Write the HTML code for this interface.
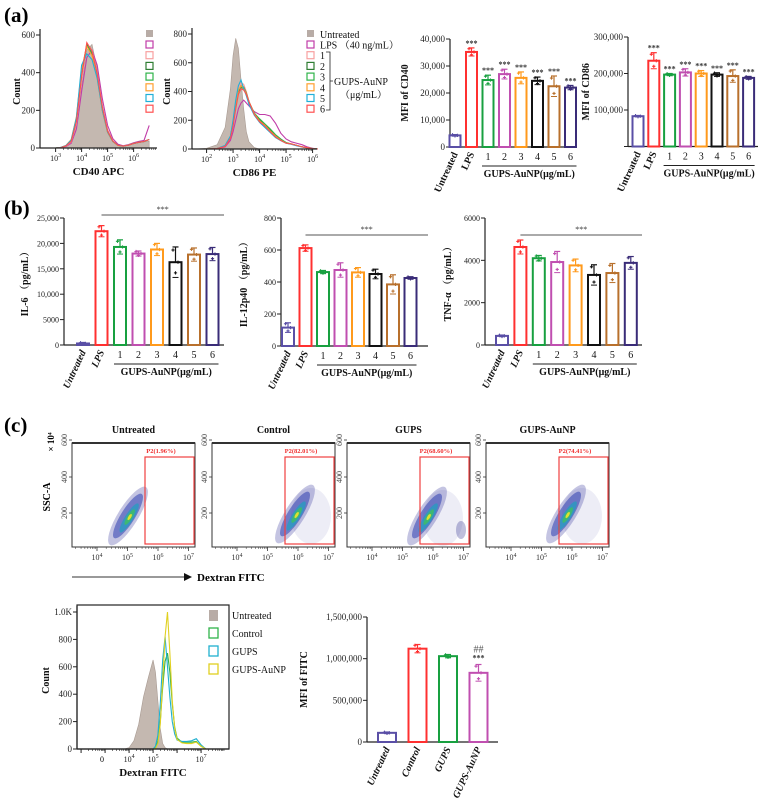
<!DOCTYPE html>
<html><head><meta charset="utf-8">
<style>
html,body{margin:0;padding:0;background:#fff;}
svg{display:block;font-family:"Liberation Serif","Noto Serif CJK SC",serif;}
</style></head>
<body>
<svg id="fig" width="766" height="811" viewBox="0 0 766 811" xmlns="http://www.w3.org/2000/svg">
<g>
<text x="4" y="22" font-size="21" font-weight="bold">(a)</text>
<text x="4" y="215" font-size="21" font-weight="bold">(b)</text>
<text x="4" y="432" font-size="21" font-weight="bold">(c)</text>
</g>
</svg>
<script>
// ---------- DATA ----------
const groupCats = ["Untreated","LPS","1","2","3","4","5","6"];
const groupColors = ["#5a4fa6","#ff3030","#18a040","#c04fb0","#ff9a1c","#111111","#b8702c","#3a2c78"];
const cd40Vals = [4300,35200,24800,27000,25600,24500,22500,22000];
const cd40Errs = [300,1500,1800,1800,2200,1400,3800,800];
const cd86Vals = [83000,235000,197000,203000,200000,197000,193000,188000];
const cd86Errs = [2000,22000,3000,10000,8000,5000,17000,4000];
const il6Vals = [300,22400,19300,18000,18800,16300,17800,17900];
const il6Errs = [200,1100,1400,500,1200,3000,1300,1300];
const il12Vals = [115,612,462,475,460,450,385,425];
const il12Errs = [30,20,10,45,30,30,60,8];
const tnfVals = [430,4630,4100,3920,3760,3310,3400,3880];
const tnfErrs = [40,330,130,500,300,480,450,300];
const fitcCats = ["Untreated","Control","GUPS","GUPS-AuNP"];
const fitcColors = ["#5a4fa6","#ff3030","#18a040","#c04fb0"];
const fitcVals = [110000,1120000,1030000,830000];
const fitcErrs = [10000,50000,20000,100000];
const cd40Ticks = [0,10000,20000,30000,40000];
const cd40TickLabels = ["0","10,000","20,000","30,000","40,000"];
const cd86Ticks = [0,100000,200000,300000];
const cd86TickLabels = ["","100,000","200,000","300,000"];
const il6Ticks = [0,5000,10000,15000,20000,25000];
const il6TickLabels = ["0","5000","10,000","15,000","20,000","25,000"];
const il12Ticks = [0,200,400,600,800];
const il12TickLabels = ["0","200","400","600","800"];
const tnfTicks = [0,2000,4000,6000];
const tnfTickLabels = ["0","2000","4000","6000"];
const fitcTicks = [0,500000,1000000,1500000];
const fitcTickLabels = ["0","500,000","1,000,000","1,500,000"];

// histogram data (log10 bins)
const cd40Bins = [3.0,3.2,3.4,3.6,3.8,4.0,4.2,4.4,4.6,4.8,5.0,5.2,5.4,5.6,5.8,6.0,6.2,6.4,6.6];
const cd40Untreated = [0,2,10,30,120,330,520,550,420,230,100,40,15,10,14,22,28,32,36];
const cd40Series = [
 [0,2,8,25,100,300,480,520,440,260,120,50,20,12,18,28,35,40,120],
 [0,2,10,32,130,360,540,520,400,220,95,38,14,10,15,24,30,35,45],
 [0,3,12,40,150,400,550,500,380,200,85,35,14,10,15,24,30,35,45],
 [0,3,12,38,145,390,545,505,385,205,88,36,14,10,15,24,30,35,45],
 [0,3,14,45,165,420,540,490,370,195,82,34,13,10,15,24,30,35,45],
 [0,3,13,42,160,440,500,470,370,200,85,35,14,10,15,24,30,35,45],
 [0,2,11,35,140,380,560,515,395,215,90,37,14,10,15,24,30,35,45]];
const histColors = ["#c03ca8","#f8a0a0","#2e7d32","#2fb34a","#ffa030","#20b0d8","#ff5050"];
const cd86Bins = [1.5,2.0,2.4,2.7,2.9,3.0,3.1,3.2,3.3,3.4,3.5,3.6,3.8,4.0,4.2,4.4,4.6,4.8,5.0,5.2,5.4,5.6,5.8,6.0,6.2];
const cd86Untreated = [0,5,30,150,420,650,770,700,480,280,120,50,10,0,0,0,0,0,0,0,0,0,0,0,0];
const cd86Series = [
 [0,0,2,15,60,120,200,280,320,340,320,300,260,240,240,230,180,110,70,50,40,30,15,5,0],
 [0,0,3,20,80,170,300,420,460,450,400,330,240,190,160,120,85,60,40,35,25,15,8,3,0],
 [0,0,3,22,85,180,310,400,440,430,390,330,250,200,170,135,95,65,45,35,25,15,8,3,0],
 [0,0,3,22,85,180,320,410,430,420,380,320,250,210,175,140,100,70,45,35,25,15,8,3,0],
 [0,0,3,20,82,175,305,410,440,425,385,330,245,195,165,125,90,62,42,35,25,15,8,3,0],
 [0,0,3,25,90,200,340,440,480,420,370,310,235,185,150,115,80,58,40,32,22,14,7,3,0],
 [0,0,3,18,75,160,280,380,420,410,380,330,240,190,160,120,85,60,40,35,25,15,8,3,0]];
const fitcBins = [3.8,4.0,4.2,4.4,4.6,4.8,5.0,5.1,5.2,5.3,5.4,5.5,5.6,5.7,5.8,5.9,6.0,6.2,6.4,6.6,6.8,7.0,7.2];
const fitcUntreated = [0,10,60,180,380,520,650,560,350,150,40,10,0,0,0,0,0,0,0,0,0,0,0];
const fitcSeries = [
 [0,0,0,0,0,0,0,10,60,200,450,640,700,560,330,160,80,50,50,50,55,20,0],
 [0,0,0,0,0,0,0,20,100,330,650,820,600,380,200,110,65,55,55,60,75,30,0],
 [0,0,0,0,0,0,0,5,40,180,500,820,1000,700,350,150,70,45,40,40,50,20,0]];
const fitcHistColors = ["#2fb34a","#20b0d0","#e0d020"];
const fitcLegend = ["Untreated","Control","GUPS","GUPS-AuNP"];
const scatterTitles = ["Untreated","Control","GUPS","GUPS-AuNP"];
const gatePercents = ["1.96%","82.01%","68.60%","74.41%"];

// ---------- HELPERS ----------
const NS="http://www.w3.org/2000/svg";
const svg=document.getElementById('fig');
function mk(tag,attrs,parent,txt){const e=document.createElementNS(NS,tag);for(const k in attrs)e.setAttribute(k,attrs[k]);if(txt!==undefined)e.textContent=txt;(parent||svg).appendChild(e);return e;}
function line(p,x1,y1,x2,y2,c,w){return mk('line',{x1,y1,x2,y2,stroke:c||'#222','stroke-width':w||1},p);}

function barChart(cfg,cats,vals,errs,colors,ticks,tickLabels){
  const g=mk('g',{});
  
  
  const y=v=>cfg.yBot-(v/cfg.max)*(cfg.yBot-cfg.yTop);
  const x=i=>cfg.x0+cfg.off+i*cfg.step;
  line(g,cfg.x0,cfg.yTop,cfg.x0,cfg.yBot,'#222',1.2);
  line(g,cfg.x0,cfg.yBot,cfg.xEnd,cfg.yBot,'#222',1.2);
  ticks.forEach((t,i)=>{
    line(g,cfg.x0-4,y(t),cfg.x0,y(t),'#222',1);
    if(tickLabels[i]){const tl=mk('text',{x:cfg.x0-5,y:y(t)+3,'text-anchor':'end','font-size':cfg.fs||9,fill:'#222'},g,tickLabels[i]);
    
    }
  });
  const yl=mk('text',{x:cfg.ylx,y:(cfg.yTop+cfg.yBot)/2,transform:`rotate(-90 ${cfg.ylx} ${(cfg.yTop+cfg.yBot)/2})`,'text-anchor':'middle','font-size':10,'font-weight':'bold',fill:'#111'},g,cfg.ylabel);
  
  
  cats.forEach((c,i)=>{
    const cx=x(i),top=y(vals[i]),bw=cfg.bw;
    const r=mk('rect',{x:cx-bw/2,y:top,width:bw,height:cfg.yBot-top,fill:'#fff',stroke:colors[i],'stroke-width':2},g);
    
    
    const eT=y(vals[i]+errs[i]),eB=y(Math.max(0,vals[i]-errs[i]));
    line(g,cx,eT,cx,top,colors[i],1.2);
    line(g,cx-3,eT,cx+3,eT,colors[i],1.2);
    line(g,cx-3,eB,cx+3,eB,colors[i],1);
    [vals[i]+errs[i]*0.8,vals[i]-errs[i]*0.7,vals[i]].forEach((v,k)=>{
      const py=y(v),px=cx+(k-1)*2.5;
      mk('path',{d:`M${px-1.6} ${py}h3.2M${px} ${py-1.6}v3.2`,stroke:colors[i],'stroke-width':1.1},g);
    });
    if(cfg.sig && i>=1){const s=mk('text',{x:cx,y:eT-2,'text-anchor':'middle','font-size':8,'font-weight':'bold',fill:'#333'},g,'***');
      
      }
    if(cfg.num && i>=2){const n=mk('text',{x:cx,y:cfg.yBot+13,'text-anchor':'middle','font-size':10,fill:'#111'},g,c);
      
      }
    else{const lx=cx+3,ly=cfg.yBot+7;
      const t=mk('text',{x:lx,y:ly,transform:`rotate(-65 ${lx} ${ly})`,'text-anchor':'end','font-size':10,'font-weight':'bold','font-style':cfg.italic?'italic':'normal',fill:'#111'},g,c);
      
      }
  });
  if(cfg.num){
    line(g,x(2)-6,cfg.yBot+19,x(7)+6,cfg.yBot+19,'#222',1);
    const gt=mk('text',{x:(x(2)+x(7))/2,y:cfg.yBot+30,'text-anchor':'middle','font-size':10,'font-weight':'bold',fill:'#111'},g,'GUPS-AuNP(μg/mL)');
    
    
  }
  if(cfg.bracketY){
    line(g,x(1),cfg.bracketY,cfg.xEnd,cfg.bracketY,'#555',1);
    const s=mk('text',{x:(x(1)+cfg.xEnd)/2,y:cfg.bracketY-3,'text-anchor':'middle','font-size':8,fill:'#333'},g,'***');
    
    
  }
  return {g,x,y};
}

function histogram(cfg,bins,fillSeries,lineSeries,colors){
  const g=mk('g',{});
  
  
  const X=l=>cfg.xL+(l-cfg.lmin)*cfg.dec;
  const Y=v=>cfg.yBot-(v/cfg.max)*(cfg.yBot-cfg.yTop);
  let d=`M${X(bins[0])} ${cfg.yBot}`;
  bins.forEach((b,i)=>{d+=` L${X(b)} ${Y(fillSeries[i])}`;});
  d+=` L${X(bins[bins.length-1])} ${cfg.yBot}Z`;
  const f=mk('path',{d,fill:'#c4b8b0',stroke:'#a89a92','stroke-width':0.6},g);
  
  
  lineSeries.forEach((s,k)=>{
    let p='';s.forEach((v,i)=>{p+=(i?' L':'M')+X(bins[i])+' '+Y(v);});
    const l=mk('path',{d:p,fill:'none',stroke:colors[k],'stroke-width':1.1},g);
    
    
  });
  line(g,cfg.xL,cfg.yTop-6,cfg.xL,cfg.yBot,'#222',1.2);
  line(g,cfg.xL,cfg.yBot,cfg.xR,cfg.yBot,'#222',1.2);
  if(cfg.box){mk('rect',{x:cfg.xL,y:cfg.yTop-7,width:cfg.xR-cfg.xL,height:cfg.yBot-cfg.yTop+7,fill:'none',stroke:'#222','stroke-width':1.2},g);}
  cfg.yt.forEach((t,i)=>{line(g,cfg.xL-4,Y(t),cfg.xL,Y(t));
    const tl=mk('text',{x:cfg.xL-5,y:Y(t)+3,'text-anchor':'end','font-size':9,fill:'#222'},g,cfg.ytl[i]);
    
    });
  for(let l=Math.ceil(cfg.lmin);l<=cfg.lmax;l++){
    line(g,X(l),cfg.yBot,X(l),cfg.yBot+4);
    for(let m=2;m<10;m++){const xx=X(l+Math.log10(m));if(xx<cfg.xR)line(g,xx,cfg.yBot,xx,cfg.yBot+2,'#222',0.6);}
    if(cfg.xl.includes(l)){const tl=mk('text',{x:X(l),y:cfg.yBot+13,'text-anchor':'middle','font-size':8,fill:'#222'},g);
      
      
      mk('tspan',{},tl,'10');mk('tspan',{dy:-4,'font-size':6},tl,String(l));}
  }
  const xl=mk('text',{x:(cfg.xL+cfg.xR)/2,y:cfg.yBot+27,'text-anchor':'middle','font-size':11,'font-weight':'bold',fill:'#111'},g,cfg.xlabel);
  
  
  const yl=mk('text',{x:cfg.ylx,y:(cfg.yTop+cfg.yBot)/2,transform:`rotate(-90 ${cfg.ylx} ${(cfg.yTop+cfg.yBot)/2})`,'text-anchor':'middle','font-size':10,'font-weight':'bold',fill:'#111'},g,'Count');
  
  
  return {g,X,Y};
}

// ---------- PANEL A ----------
histogram({name:'cd40-histogram',xL:40,xR:157,yTop:35,yBot:148,max:600,lmin:2.4,lmax:6.7,dec:26,yt:[0,200,400,600],ytl:['0','200','400','600'],xl:[3,4,5,6],xlabel:'CD40 APC',ylx:20},cd40Bins,cd40Untreated,cd40Series,histColors);
(function(){const g=mk('g',{});
 mk('rect',{x:146,y:30,width:7,height:7,fill:'#b8aca6'},g);
 histColors.forEach((c,i)=>{mk('rect',{x:146,y:41+i*10.7,width:7,height:7,fill:'none',stroke:c,'stroke-width':1.2},g);});})();
histogram({name:'cd86-histogram',xL:192,xR:317,yTop:34,yBot:149,max:800,lmin:1.45,lmax:6.2,dec:26.5,yt:[0,200,400,600,800],ytl:['0','200','400','600','800'],xl:[2,3,4,5,6],xlabel:'CD86 PE',ylx:170},cd86Bins,cd86Untreated,cd86Series,histColors);
(function(){const g=mk('g',{});
 mk('rect',{x:307,y:30,width:7,height:7,fill:'#b8aca6'},g);
 const labs=['LPS （40 ng/mL）','1','2','3','4','5','6'];
 mk('text',{x:320,y:38,'font-size':10,fill:'#111'},g,'Untreated');
 histColors.forEach((c,i)=>{mk('rect',{x:307,y:41+i*10.7,width:7,height:7,fill:'none',stroke:c,'stroke-width':1.2},g);
  mk('text',{x:320,y:48.5+i*10.7,'font-size':10,fill:'#111'},g,labs[i]);});
 mk('path',{d:'M326 52 h4 V110 h-4 M330 81 h3',fill:'none',stroke:'#222','stroke-width':0.8},g);
 mk('text',{x:334,y:85,'font-size':10,fill:'#111'},g,'GUPS-AuNP');
 mk('text',{x:340,y:98,'font-size':10,fill:'#111'},g,'（μg/mL）');})();

barChart({name:'cd40-mfi-chart',x0:450,xEnd:575,yTop:39,yBot:147,max:40000,off:5,step:16.5,bw:11,ylabel:'MFI of CD40',ylx:408,sig:true,num:true},groupCats,cd40Vals,cd40Errs,groupColors,cd40Ticks,cd40TickLabels);
barChart({name:'cd86-mfi-chart',x0:628,xEnd:758,yTop:37,yBot:146.5,max:300000,off:10,step:15.8,bw:11,ylabel:'MFI of CD86',ylx:589,sig:true,num:true},groupCats,cd86Vals,cd86Errs,groupColors,cd86Ticks,cd86TickLabels);

// ---------- PANEL B ----------
barChart({name:'il6-chart',x0:64,xEnd:224,yTop:218,yBot:345,max:25000,off:19,step:18.5,bw:12,ylabel:'IL-6 （pg/mL）',ylx:28,num:true,italic:true,fs:8,bracketY:215},groupCats,il6Vals,il6Errs,groupColors,il6Ticks,il6TickLabels);
barChart({name:'il12-chart',x0:281,xEnd:428,yTop:218,yBot:346,max:800,off:7,step:17.5,bw:12,ylabel:'IL-12p40 （pg/mL）',ylx:247,num:true,italic:true,fs:8,bracketY:235},groupCats,il12Vals,il12Errs,groupColors,il12Ticks,il12TickLabels);
barChart({name:'tnf-chart',x0:485,xEnd:642,yTop:218,yBot:345,max:6000,off:17,step:18.4,bw:12,ylabel:'TNF-α （pg/mL）',ylx:451,num:true,italic:true,fs:8,bracketY:235},groupCats,tnfVals,tnfErrs,groupColors,tnfTicks,tnfTickLabels);

// ---------- PANEL C scatter ----------
const scatterLefts=[72,212,347,486];
const scatterWidth=123;
const blobCenters=[[128,516],[295,514],[427,516],[566,514]];
scatterTitles.forEach((t,k)=>{
  const g=mk('g',{});
  
  
  const L=scatterLefts[k],R=L+scatterWidth,T=443,B=547;
  const tt=mk('text',{x:L+scatterWidth/2,y:433,'text-anchor':'middle','font-size':10,'font-weight':'bold',fill:'#111'},g,t);
  
  
  mk('rect',{x:L,y:T,width:scatterWidth,height:B-T,fill:'#fff',stroke:'#333','stroke-width':1},g);
  line(g,L,T,R,T,'#333',2);
  const [cx,cy]=blobCenters[k];
  if(k>0){mk('ellipse',{cx:cx+16,cy:cy+2,rx:20,ry:28,fill:'#4a4aa8',opacity:0.1},g);}
  if(k===2){mk('ellipse',{cx:cx+34,cy:cy+14,rx:5,ry:9,fill:'#2a2a8a',opacity:0.3},g);}
  const rot=`rotate(-58 ${cx} ${cy})`;
  mk('ellipse',{cx,cy,rx:34,ry:10,fill:'#3a3aa0',opacity:0.3,transform:rot},g);
  mk('ellipse',{cx,cy,rx:26,ry:7,fill:'#2f3fb0',opacity:0.55,transform:rot},g);
  mk('ellipse',{cx:cx-1,cy:cy+2,rx:17,ry:4.2,fill:'#20a0c0',opacity:0.7,transform:rot},g);
  mk('ellipse',{cx:cx,cy:cy+2,rx:9,ry:2.6,fill:'#40c060',opacity:0.8,transform:rot},g);
  mk('ellipse',{cx:cx,cy:cy+2,rx:3.5,ry:1.4,fill:'#e0e030',transform:rot},g);
  const gx=L+73;
  const gr=mk('rect',{x:gx,y:457,width:R-gx-1,height:87,fill:'none',stroke:'#f04040','stroke-width':1.2},g);
  
  
  mk('text',{x:gx+16,y:453,'text-anchor':'middle','font-size':6.5,'font-weight':'bold',fill:'#f03030'},g,'P2('+gatePercents[k]+')');
  [[600,440],[400,477],[200,513]].forEach(([v,yy])=>{line(g,L-3,yy,L,yy,'#333',0.8);
    mk('text',{x:L-5,y:yy,transform:`rotate(-90 ${L-5} ${yy})`,'text-anchor':'middle','font-size':8,fill:'#444'},g,String(v));});
  [4,5,6,7].forEach((l,i)=>{const xx=L+25+i*30.5;line(g,xx,B,xx,B+4,'#333',0.8);
    for(let m=2;m<10;m++){const mx=xx-30.5+30.5*Math.log10(m);if(mx>L)line(g,mx,B,mx,B+2,'#333',0.5);}
    const tl=mk('text',{x:xx,y:B+13,'text-anchor':'middle','font-size':8,fill:'#333'},g);
    mk('tspan',{},tl,'10');mk('tspan',{dy:-3,'font-size':6},tl,String(l));});
});
(function(){const g=mk('g',{});
 mk('text',{x:54,y:442,transform:'rotate(-90 54 442)','text-anchor':'middle','font-size':9,'font-weight':'bold'},g,'× 10⁴');
 mk('text',{x:50,y:497,transform:'rotate(-90 50 497)','text-anchor':'middle','font-size':10,'font-weight':'bold'},g,'SSC-A');
 line(g,72,577,185,577,'#333',1);
 mk('path',{d:'M184 573 L192 577 L184 581Z',fill:'#111'},g);
 mk('text',{x:197,y:581,'font-size':11,'font-weight':'bold'},g,'Dextran FITC');})();

// ---------- PANEL C bottom ----------
(function(){
 const h=histogram({name:'fitc-histogram',xL:77,xR:229,yTop:612,yBot:749,max:1000,lmin:1.83,lmax:7.4,dec:24,yt:[0,200,400,600,800,1000],ytl:['0','200','400','600','800','1.0K'],xl:[4,5,7],xlabel:'Dextran FITC',ylx:49,box:true},fitcBins,fitcUntreated,fitcSeries,fitcHistColors);
 mk('text',{x:102,y:762,'text-anchor':'middle','font-size':8},h.g,'0');
 const g=mk('g',{});
 const cols=['#b8aca6'].concat(fitcHistColors);
 fitcLegend.forEach((l,i)=>{const yy=610+i*18;
  if(i===0)mk('rect',{x:209,y:yy,width:9,height:11,fill:cols[0]},g);
  else mk('rect',{x:209,y:yy,width:9,height:10,fill:'#fff',stroke:cols[i],'stroke-width':1.3},g);
  mk('text',{x:232,y:yy+9,'font-size':10,fill:'#111'},g,l);});
})();
(function(){
 const c=barChart({name:'fitc-mfi-chart',x0:367,xEnd:498,yTop:617,yBot:742,max:1500000,off:20,step:30.5,bw:18,ylabel:'MFI of FITC',ylx:307,italic:true},fitcCats,fitcVals,fitcErrs,fitcColors,fitcTicks,fitcTickLabels);
 const cx=c.x(3),yy=c.y(fitcVals[3]+fitcErrs[3]);
 mk('text',{x:cx,y:yy-4,'text-anchor':'middle','font-size':8,'font-weight':'bold',fill:'#333'},c.g,'***');
 mk('text',{x:cx,y:yy-12,'text-anchor':'middle','font-size':10,fill:'#555'},c.g,'##');
})();
</script>
</body></html>
